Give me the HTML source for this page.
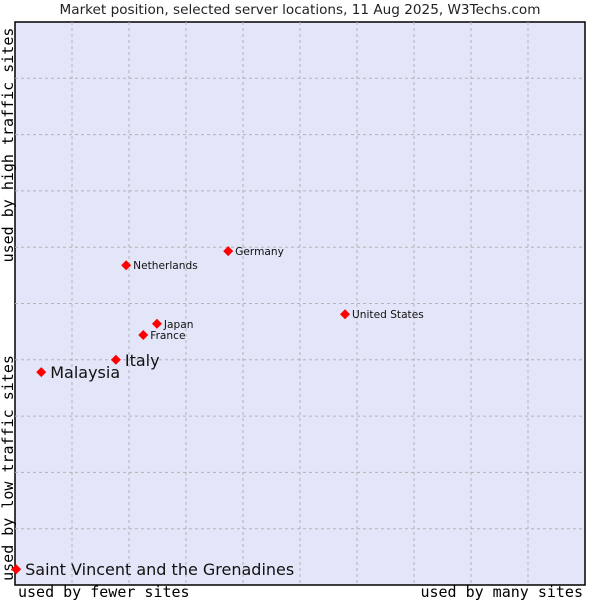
<!DOCTYPE html>
<html><head><meta charset="utf-8"><style>
body{margin:0;background:#fff;}
svg text{font-family:"DejaVu Sans","Liberation Sans",sans-serif;}
</style></head><body>
<svg width="600" height="600" xmlns="http://www.w3.org/2000/svg">
<text x="300" y="14" text-anchor="middle" font-size="13.6" fill="#222">Market position, selected server locations, 11 Aug 2025, W3Techs.com</text>
<rect x="15" y="22" width="570" height="563" fill="#e3e5f8" stroke="#000" stroke-width="1.5"/>
<g id="grid"></g>
<text transform="translate(13,145) rotate(-90)" text-anchor="middle" font-size="15" style="font-family:'DejaVu Sans Mono','Liberation Mono',monospace">used by high traffic sites</text>
<text transform="translate(13,468) rotate(-90)" text-anchor="middle" font-size="15" style="font-family:'DejaVu Sans Mono','Liberation Mono',monospace">used by low traffic sites</text>
<text x="18" y="597" font-size="15" style="font-family:'DejaVu Sans Mono','Liberation Mono',monospace">used by fewer sites</text>
<text x="583" y="597" text-anchor="end" font-size="15" style="font-family:'DejaVu Sans Mono','Liberation Mono',monospace">used by many sites</text>
<g id="points"></g>
</svg>
<script>
const countries=["Saint Vincent and the Grenadines","Malaysia","Italy","France","Japan","Netherlands","Germany","United States"];
const xValues=[0.2,4.6,17.7,22.5,24.9,19.5,37.4,57.9];
const yValues=[2.8,37.8,40.0,44.4,46.4,56.8,59.3,48.1];
const labelSizes=[16,16,16,10.6,10.6,10.6,10.6,10.6];
const NS="http://www.w3.org/2000/svg";
const X0=15,X1=585,Y0=585,Y1=22;
function xs(v){return X0+(X1-X0)*v/100;}
function ys(v){return Y0-(Y0-Y1)*v/100;}
const grid=document.getElementById('grid');
for(let i=1;i<10;i++){
  const v=document.createElementNS(NS,'line');
  v.setAttribute('x1',xs(i*10));v.setAttribute('x2',xs(i*10));v.setAttribute('y1',Y1);v.setAttribute('y2',Y0);
  v.setAttribute('stroke','#b4b4b4');v.setAttribute('stroke-dasharray','3,3');
  
  
  grid.appendChild(v);
  const h=document.createElementNS(NS,'line');
  h.setAttribute('x1',X0);h.setAttribute('x2',X1);h.setAttribute('y1',ys(i*10));h.setAttribute('y2',ys(i*10));
  h.setAttribute('stroke','#b4b4b4');h.setAttribute('stroke-dasharray','3,3');
  
  
  grid.appendChild(h);
}
const pts=document.getElementById('points');
countries.forEach((c,i)=>{
  const x=xs(xValues[i]),y=ys(yValues[i]);
  const d=document.createElementNS(NS,'path');
  d.setAttribute('d',`M${x-5},${y}L${x},${y-5}L${x+5},${y}L${x},${y+5}Z`);
  d.setAttribute('fill','#f00');
  
  
  pts.appendChild(d);
  const t=document.createElementNS(NS,'text');
  t.setAttribute('x',x+(labelSizes[i]>12?9:7));t.setAttribute('y',y+(labelSizes[i]>12?6:4));
  t.setAttribute('font-size',labelSizes[i]);t.setAttribute('fill','#111');
  t.textContent=c;
  
  
  pts.appendChild(t);
});
</script>
</body></html>
